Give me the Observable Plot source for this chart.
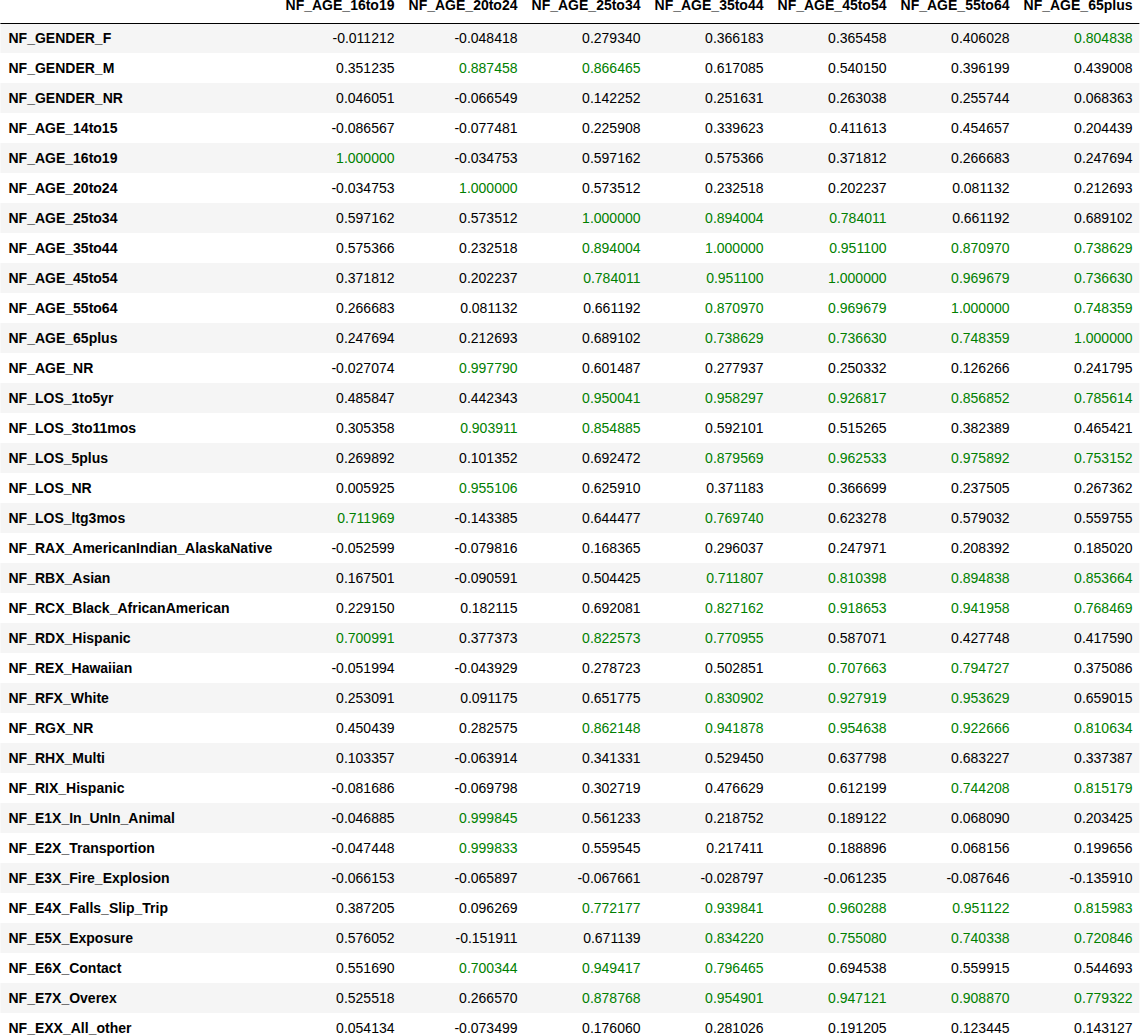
<!DOCTYPE html>
<html><head><meta charset="utf-8">
<script src="https://cdn.jsdelivr.net/npm/d3@7"></script>
<script src="https://cdn.jsdelivr.net/npm/@observablehq/plot@0.6"></script>
<style>body{margin:0;background:#fff;font-family:"Liberation Sans",Arial,sans-serif}</style>
</head><body><div id="chart"></div>
<script>
const columns = ['NF_AGE_16to19','NF_AGE_20to24','NF_AGE_25to34','NF_AGE_35to44','NF_AGE_45to54','NF_AGE_55to64','NF_AGE_65plus'];
const rows = ['NF_GENDER_F','NF_GENDER_M','NF_GENDER_NR','NF_AGE_14to15','NF_AGE_16to19','NF_AGE_20to24','NF_AGE_25to34','NF_AGE_35to44','NF_AGE_45to54','NF_AGE_55to64','NF_AGE_65plus','NF_AGE_NR','NF_LOS_1to5yr','NF_LOS_3to11mos','NF_LOS_5plus','NF_LOS_NR','NF_LOS_ltg3mos','NF_RAX_AmericanIndian_AlaskaNative','NF_RBX_Asian','NF_RCX_Black_AfricanAmerican','NF_RDX_Hispanic','NF_REX_Hawaiian','NF_RFX_White','NF_RGX_NR','NF_RHX_Multi','NF_RIX_Hispanic','NF_E1X_In_UnIn_Animal','NF_E2X_Transportion','NF_E3X_Fire_Explosion','NF_E4X_Falls_Slip_Trip','NF_E5X_Exposure','NF_E6X_Contact','NF_E7X_Overex','NF_EXX_All_other'];
const age16to19 = [-0.011212,0.351235,0.046051,-0.086567,1.000000,-0.034753,0.597162,0.575366,0.371812,0.266683,0.247694,-0.027074,0.485847,0.305358,0.269892,0.005925,0.711969,-0.052599,0.167501,0.229150,0.700991,-0.051994,0.253091,0.450439,0.103357,-0.081686,-0.046885,-0.047448,-0.066153,0.387205,0.576052,0.551690,0.525518,0.054134];
const age20to24 = [-0.048418,0.887458,-0.066549,-0.077481,-0.034753,1.000000,0.573512,0.232518,0.202237,0.081132,0.212693,0.997790,0.442343,0.903911,0.101352,0.955106,-0.143385,-0.079816,-0.090591,0.182115,0.377373,-0.043929,0.091175,0.282575,-0.063914,-0.069798,0.999845,0.999833,-0.065897,0.096269,-0.151911,0.700344,0.266570,-0.073499];
const age25to34 = [0.279340,0.866465,0.142252,0.225908,0.597162,0.573512,1.000000,0.894004,0.784011,0.661192,0.689102,0.601487,0.950041,0.854885,0.692472,0.625910,0.644477,0.168365,0.504425,0.692081,0.822573,0.278723,0.651775,0.862148,0.341331,0.302719,0.561233,0.559545,-0.067661,0.772177,0.671139,0.949417,0.878768,0.176060];
const age35to44 = [0.366183,0.617085,0.251631,0.339623,0.575366,0.232518,0.894004,1.000000,0.951100,0.870970,0.738629,0.277937,0.958297,0.592101,0.879569,0.371183,0.769740,0.296037,0.711807,0.827162,0.770955,0.502851,0.830902,0.941878,0.529450,0.476629,0.218752,0.217411,-0.028797,0.939841,0.834220,0.796465,0.954901,0.281026];
const age45to54 = [0.365458,0.540150,0.263038,0.411613,0.371812,0.202237,0.784011,0.951100,1.000000,0.969679,0.736630,0.250332,0.926817,0.515265,0.962533,0.366699,0.623278,0.247971,0.810398,0.918653,0.587071,0.707663,0.927919,0.954638,0.637798,0.612199,0.189122,0.188896,-0.061235,0.960288,0.755080,0.694538,0.947121,0.191205];
const age55to64 = [0.406028,0.396199,0.255744,0.454657,0.266683,0.081132,0.661192,0.870970,0.969679,1.000000,0.748359,0.126266,0.856852,0.382389,0.975892,0.237505,0.579032,0.208392,0.894838,0.941958,0.427748,0.794727,0.953629,0.922666,0.683227,0.744208,0.068090,0.068156,-0.087646,0.951122,0.740338,0.559915,0.908870,0.123445];
const age65plus = [0.804838,0.439008,0.068363,0.204439,0.247694,0.212693,0.689102,0.738629,0.736630,0.748359,1.000000,0.241795,0.785614,0.465421,0.753152,0.267362,0.559755,0.185020,0.853664,0.768469,0.417590,0.375086,0.659015,0.810634,0.337387,0.815179,0.203425,0.199656,-0.135910,0.815983,0.720846,0.544693,0.779322,0.143127];
const series = [age16to19,age20to24,age25to34,age35to44,age45to54,age55to64,age65plus];

const cells = [];
series.forEach((vals, ci) => vals.forEach((v, ri) => cells.push({col: ci + 1, row: rows[ri], v})));
const stripes = rows.filter((d, i) => i % 2 === 0);

const chart = Plot.plot({
  width: 1140, height: 1036,
  marginTop: 0, marginBottom: 0, marginLeft: 0, marginRight: 0,
  style: {fontFamily: '"Liberation Sans", Arial, sans-serif', fontSize: '14px', background: '#fff'},
  x: {domain: [0, 7], range: [271, 1132], axis: null},
  y: {domain: rows, range: [23, 1043], padding: 0, axis: null},
  marks: [
    Plot.barX(stripes, {y: d => d, x1: -2.2, x2: 7.06, fill: '#f5f5f5'}),
    Plot.ruleY([rows[0]], {y: d => d, dy: -15, x1: -2.2, x2: 7.06, stroke: '#000', strokeWidth: 1}),
    Plot.text(columns, {x: (d, i) => i + 1, frameAnchor: 'top', dy: 0, text: d => d, textAnchor: 'end', fontWeight: 'bold', fill: '#000'}),
    Plot.text(rows, {x: 0, y: d => d, text: d => d, dx: -263, textAnchor: 'start', fontWeight: 'bold', fill: '#000'}),
    Plot.text(cells, {x: 'col', y: 'row', text: d => d.v.toFixed(6), textAnchor: 'end', fill: d => d.v > 0.7 ? 'green' : '#000'})
  ]
});
document.getElementById('chart').append(chart);
</script></body></html>
